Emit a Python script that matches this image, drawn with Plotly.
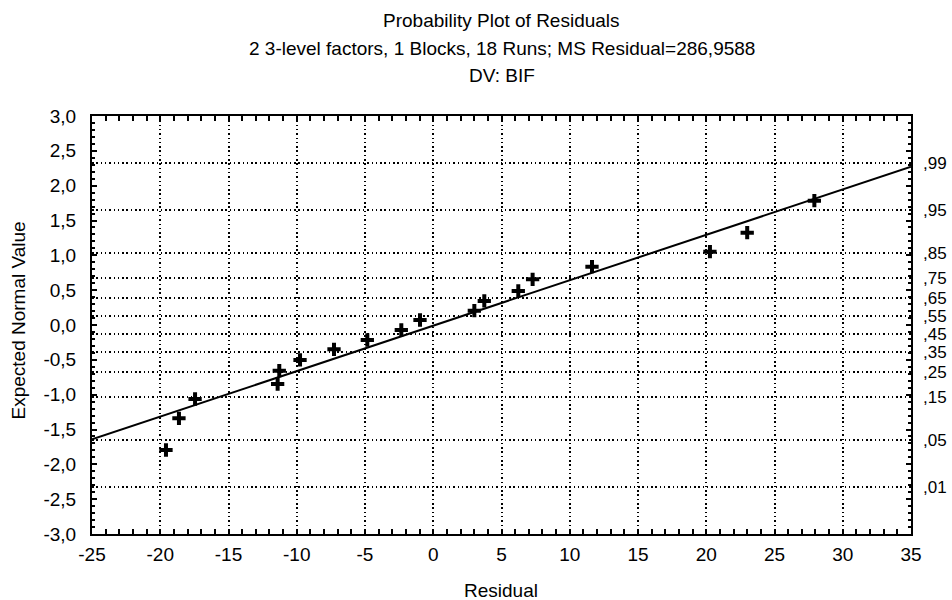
import plotly.graph_objects as go
from statistics import NormalDist

# Data
residuals = [-19.58, -18.63, -17.45, -11.40, -11.28, -9.76, -7.27, -4.83, -2.34,
             -0.97, 3.01, 3.74, 6.23, 7.28, 11.63, 20.27, 23.00, 27.92]
expected = [-1.794, -1.339, -1.062, -0.847, -0.656, -0.502, -0.349, -0.215, -0.072,
            0.072, 0.206, 0.345, 0.488, 0.656, 0.837, 1.053, 1.325, 1.784]
fit_x = [-25, 35]
fit_y = [-1.641, 2.273]

x_ticks = [-25, -20, -15, -10, -5, 0, 5, 10, 15, 20, 25, 30, 35]
y_ticks = [-3.0, -2.5, -2.0, -1.5, -1.0, -0.5, 0.0, 0.5, 1.0, 1.5, 2.0, 2.5, 3.0]
probs = [0.01, 0.05, 0.15, 0.25, 0.35, 0.45, 0.55, 0.65, 0.75, 0.85, 0.95, 0.99]
prob_labels = [",01", ",05", ",15", ",25", ",35", ",45", ",55", ",65", ",75", ",85", ",95", ",99"]

title_lines = ["Probability Plot of Residuals",
               "2 3-level factors, 1 Blocks, 18 Runs; MS Residual=286,9588",
               "DV: BIF"]
x_title = "Residual"
y_title = "Expected Normal Value"

nd = NormalDist()
prob_z = [nd.inv_cdf(p) for p in probs]

FONT = "Liberation Sans, Arial, sans-serif"
FS = 19
W, H = 952, 600
ML, MR, MT, MB = 92, 41, 116, 66
PW, PH = W - ML - MR, H - MT - MB


def px_to_paper_x(px):
    return (px - ML) / PW


def px_to_paper_y(py):
    return 1 + (MT - py) / PH


fig = go.Figure()
fig.add_trace(go.Scatter(x=fit_x, y=fit_y, mode="lines",
                         line=dict(color="black", width=2), hoverinfo="skip"))
fig.add_trace(go.Scatter(x=residuals, y=expected, mode="markers",
                         marker=dict(symbol="cross-thin", size=9.5, color="black",
                                     line=dict(color="black", width=4))))
# invisible trace on secondary axis for probability scale
fig.add_trace(go.Scatter(x=[fit_x[0]], y=[0], yaxis="y2", mode="markers",
                         marker=dict(opacity=0), hoverinfo="skip"))

dots = "1.5px,2.8px"
fig.update_layout(
    width=W, height=H,
    margin=dict(l=ML, r=MR, t=MT, b=MB, autoexpand=False),
    paper_bgcolor="white", plot_bgcolor="white",
    showlegend=False,
    font=dict(family=FONT, size=FS, color="black"),
    xaxis=dict(range=[-25, 35], tickvals=x_ticks,
               ticktext=[str(v) for v in x_ticks],
               showline=True, linecolor="black", linewidth=2, mirror="allticks",
               ticks="inside", ticklen=5, tickwidth=1.5, tickcolor="black",
               minor=dict(ticks="inside", dtick=1, ticklen=3, tickwidth=1.5, tickcolor="black"),
               showgrid=True, gridcolor="black", gridwidth=1.5, griddash=dots,
               zeroline=False, ticklabelstandoff=2, automargin=False,
               tickfont=dict(size=FS)),
    yaxis=dict(range=[-3, 3], tickvals=y_ticks,
               ticktext=[f"{v:.1f}".replace(".", ",") for v in y_ticks],
               showline=True, linecolor="black", linewidth=2, mirror="allticks",
               ticks="inside", ticklen=5, tickwidth=1.5, tickcolor="black",
               minor=dict(ticks="inside", dtick=0.1, ticklen=3, tickwidth=1.5, tickcolor="black"),
               showgrid=False, zeroline=False, ticklabelstandoff=10, automargin=False,
               tickfont=dict(size=FS)),
    yaxis2=dict(range=[-3, 3], overlaying="y", side="right",
                tickvals=prob_z, ticktext=prob_labels, ticks="",
                showgrid=True, gridcolor="black", gridwidth=1.5, griddash=dots,
                zeroline=False, showline=False, ticklabelstandoff=11, automargin=False,
                tickfont=dict(size=17)),
)

title_y = [20.5, 48, 75.5]
for t, py in zip(title_lines, title_y):
    fig.add_annotation(text=t, x=0.5, xref="paper", y=px_to_paper_y(py), yref="paper",
                       yanchor="middle", showarrow=False, font=dict(size=FS, family=FONT))

fig.add_annotation(text=x_title, x=px_to_paper_x(501), xref="paper",
                   y=px_to_paper_y(590), yref="paper", yanchor="middle",
                   showarrow=False, font=dict(size=FS, family=FONT))
fig.add_annotation(text=y_title, x=px_to_paper_x(17.5), xref="paper",
                   y=px_to_paper_y(321), yref="paper", xanchor="center", yanchor="middle",
                   textangle=-90, showarrow=False, font=dict(size=FS, family=FONT))

fig.write_html("out.html")
